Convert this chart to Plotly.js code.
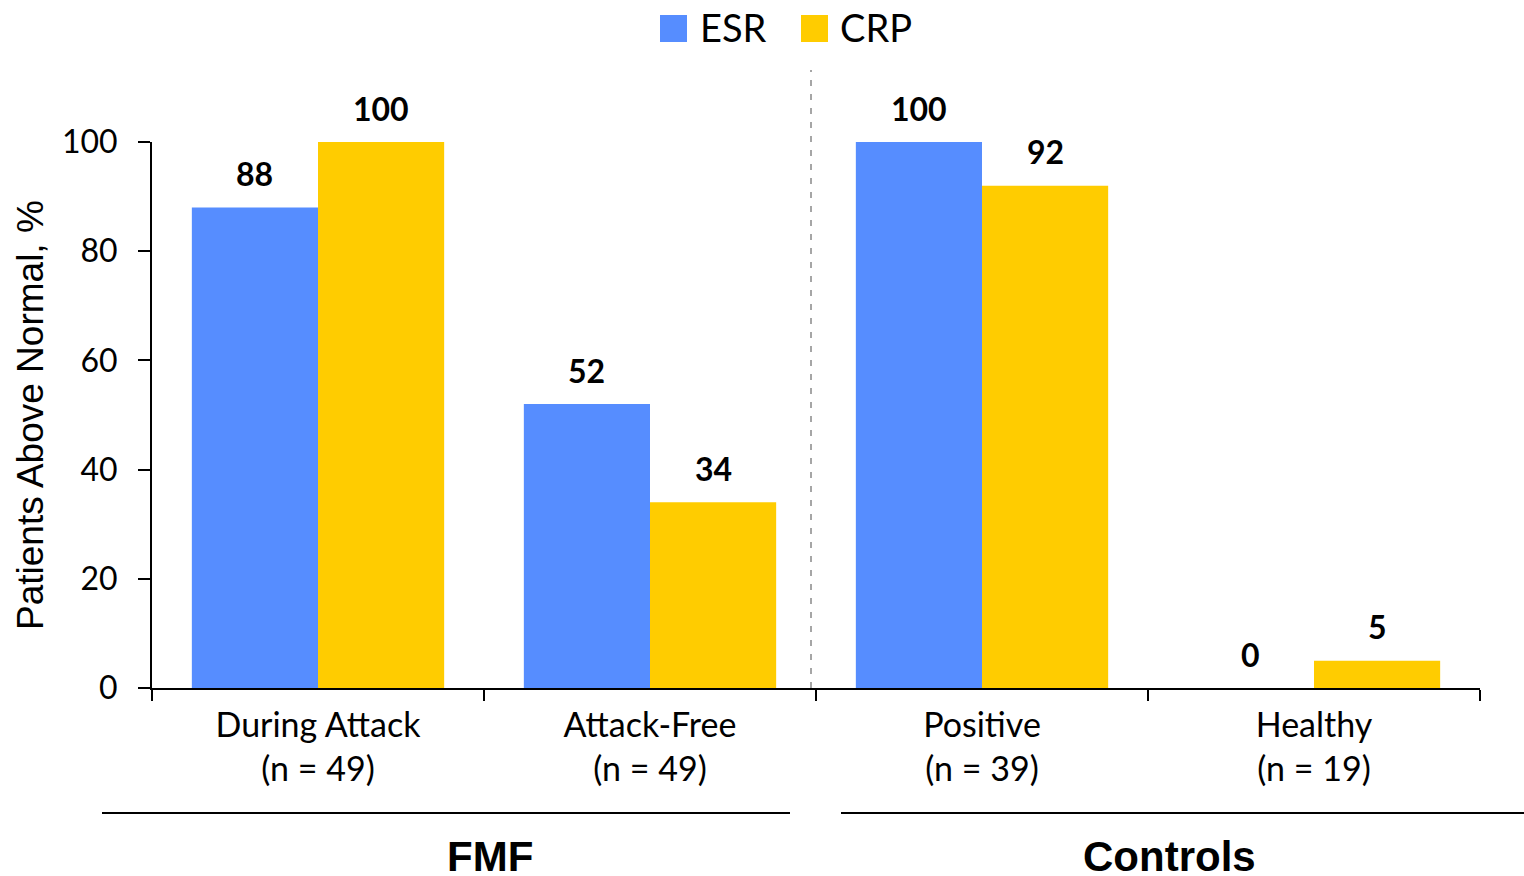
<!DOCTYPE html>
<html>
<head>
<meta charset="utf-8">
<script src="https://cdn.plot.ly/plotly-3.0.1.min.js"></script>
<style>
  html, body { margin: 0; padding: 0; background: #ffffff; }
  #chart { width: 1524px; height: 876px; }
</style>
</head>
<body>
<div id="chart"></div>
<script>
// Share of patients with inflammatory markers above the normal range
const categories = ['During Attack<br>(n = 49)', 'Attack-Free<br>(n = 49)', 'Positive<br>(n = 39)', 'Healthy<br>(n = 19)'];
const esrValues = [88, 52, 100, 0];
const crpValues = [100, 34, 92, 5];
const seriesNames = ['ESR', 'CRP'];
const seriesColors = ['#568DFF', '#FFCC00'];
const groupNames = ['FMF', 'Controls'];
const yTicks = [0, 20, 40, 60, 80, 100];

// Plot frame in pixels, used to convert pixel placements into paper units
const W = 1524, H = 876;
const L = 152, R = 44, T = 142, B = 188;
const pw = W - L - R, ph = H - T - B;
const px = x => (x - L) / pw;
const py = y => (H - B - y) / ph;

const textFont = 'Lato, "Open Sans", sans-serif';
const armFont = '"Liberation Sans", Arial, sans-serif';

const allSeries = [esrValues, crpValues];
const traces = allSeries.map((vals, i) => ({
  type: 'bar',
  name: seriesNames[i],
  x: categories,
  y: vals,
  marker: { color: seriesColors[i], line: { width: 0 } },
  hoverinfo: 'x+y+name',
  showlegend: false
}));

const annotations = [];
// Value labels above each bar (grouped bars sit at ±0.19 of a category)
const offsets = [-0.19, 0.19];
allSeries.forEach((vals, s) => {
  vals.forEach((v, i) => {
    annotations.push({
      xref: 'x', yref: 'y', x: i + offsets[s], y: v,
      text: '<b>' + v + '</b>', showarrow: false,
      yanchor: 'middle', yshift: 34,
      font: { family: textFont, size: 32, color: '#000' }
    });
  });
});

// Y axis title
annotations.push({
  xref: 'paper', yref: 'paper', x: px(30), y: 0.5,
  text: 'Patients Above Normal, %', textangle: -90, showarrow: false,
  xanchor: 'center', yanchor: 'middle',
  font: { family: armFont, size: 37, color: '#000' }
});

// Group labels under the category axis
const groupCenters = [490, 1169];
groupNames.forEach((g, i) => {
  annotations.push({
    xref: 'paper', yref: 'paper', x: px(groupCenters[i]), y: py(856),
    text: '<b>' + g + '</b>', showarrow: false,
    xanchor: 'center', yanchor: 'middle',
    font: { family: armFont, size: 42, color: '#000' }
  });
});

const shapes = [
  // separator between FMF and control groups
  { type: 'line', xref: 'paper', yref: 'paper', x0: px(811), x1: px(811), y0: py(688), y1: py(70),
    line: { color: '#A6A6A6', width: 2, dash: '6px,8px' } },
  // group underlines
  { type: 'line', xref: 'paper', yref: 'paper', x0: px(102), x1: px(790), y0: py(813), y1: py(813),
    line: { color: '#000', width: 2 } },
  { type: 'line', xref: 'paper', yref: 'paper', x0: px(841), x1: px(1524), y0: py(813), y1: py(813),
    line: { color: '#000', width: 2 } }
];

// Legend: coloured squares with series names
const legendSquareX = [660, 801];
const legendTextX = [698, 838];
seriesNames.forEach((n, i) => {
  shapes.push({
    type: 'rect', xref: 'paper', yref: 'paper',
    x0: px(legendSquareX[i]), x1: px(legendSquareX[i] + 27), y0: py(42), y1: py(15),
    fillcolor: seriesColors[i], line: { width: 0 }
  });
  annotations.push({
    xref: 'paper', yref: 'paper', x: px(legendTextX[i]), y: py(27),
    text: n, showarrow: false, xanchor: 'left', yanchor: 'middle',
    font: { family: textFont, size: 38, color: '#000' }
  });
});

const layout = {
  width: W, height: H,
  margin: { l: L, r: R, t: T, b: B },
  paper_bgcolor: '#ffffff', plot_bgcolor: '#ffffff',
  barmode: 'group', bargap: 0.24, bargroupgap: 0,
  showlegend: false,
  xaxis: {
    type: 'category',
    showline: true, linecolor: '#000', linewidth: 2,
    ticks: 'outside', tickson: 'boundaries', ticklen: 11, tickwidth: 2, tickcolor: '#000',
    ticklabelstandoff: 6,
    tickfont: { family: textFont, size: 34, color: '#000' },
    showgrid: false, zeroline: false, fixedrange: true
  },
  yaxis: {
    range: [0, 100], tickvals: yTicks,
    showline: true, linecolor: '#000', linewidth: 2,
    ticks: 'outside', ticklen: 12, tickwidth: 2, tickcolor: '#000',
    ticklabelstandoff: 14,
    tickfont: { family: textFont, size: 32, color: '#000' },
    showgrid: false, zeroline: false, fixedrange: true
  },
  annotations: annotations,
  shapes: shapes
};

Plotly.newPlot('chart', traces, layout, { displayModeBar: false, staticPlot: true });
</script>
</body>
</html>
